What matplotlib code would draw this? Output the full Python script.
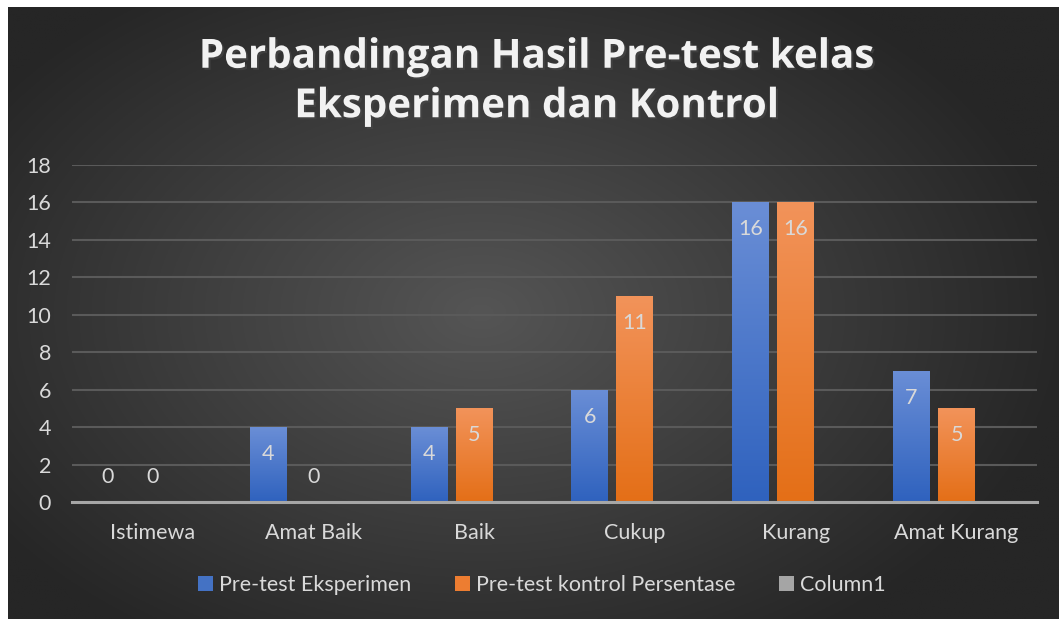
import numpy as np
import matplotlib
matplotlib.use("Agg")
import matplotlib.pyplot as plt
import matplotlib.patheffects as pe
from matplotlib.patches import Patch

categories = ["Istimewa", "Amat Baik", "Baik", "Cukup", "Kurang", "Amat Kurang"]
eksperimen = [0, 4, 4, 6, 16, 7]
kontrol = [0, 0, 5, 11, 16, 5]
column1 = [0, 0, 0, 0, 0, 0]
series_names = ["Pre-test Eksperimen", "Pre-test kontrol Persentase", "Column1"]
yticks = [0, 2, 4, 6, 8, 10, 12, 14, 16, 18]
title = "Perbandingan Hasil Pre-test kelas\nEksperimen dan Kontrol"

W, H = 1059, 619
fig = plt.figure(figsize=(W / 100, H / 100), dpi=100)
fig.patch.set_facecolor("white")

# background with radial gradient
bg = fig.add_axes([8 / W, 0, 1 - 8 / W, 1 - 7 / H])
bg.set_axis_off()
yy, xx = np.mgrid[0:1:300j, 0:1:500j]
r = np.sqrt(((xx - 0.45) / 0.75) ** 2 + ((yy - 0.5) / 0.85) ** 2)
r = np.clip(r / 0.75, 0, 1)
c0 = np.array([0x55, 0x55, 0x55]) / 255
c1 = np.array([0x26, 0x26, 0x26]) / 255
img = c0[None, None, :] * (1 - r[..., None]) + c1[None, None, :] * r[..., None]
bg.imshow(img, aspect="auto", extent=[0, 1, 0, 1])
bg.set_xlim(0, 1)
bg.set_ylim(0, 1)

FONT = "Lato"
TXT = "#d9d9d9"
FS = 15.5

ax = fig.add_axes([72 / W, 1 - 502 / H, (1037 - 72) / W, (502 - 165) / H])
ax.set_facecolor("none")
x = np.arange(len(categories))
bw = 0.23
off = 0.28

def grad_bars(bars, top, bottom):
    top = np.array(matplotlib.colors.to_rgb(top))
    bottom = np.array(matplotlib.colors.to_rgb(bottom))
    t = np.linspace(0, 1, 100)[:, None]
    g = (top[None, :] * (1 - t) + bottom[None, :] * t)[:, None, :]
    for b in bars:
        h = b.get_height()
        if h <= 0:
            continue
        x0 = b.get_x()
        w = b.get_width()
        im = ax.imshow(g, aspect="auto", extent=[x0, x0 + w, 0, h], zorder=3)
        im.set_clip_path(b)

b1 = ax.bar(x - off, eksperimen, bw, color="#4472c4", zorder=3,
            path_effects=[pe.SimplePatchShadow(offset=(0, -1), alpha=0.5), pe.Normal()])
b2 = ax.bar(x, kontrol, bw, color="#ed7d31", zorder=3,
            path_effects=[pe.SimplePatchShadow(offset=(0, -1), alpha=0.5), pe.Normal()])
b3 = ax.bar(x + off, column1, bw, color="#a5a5a5", zorder=3)
grad_bars(b1, "#6a8ed6", "#2f62be")
grad_bars(b2, "#f2935a", "#e46f17")

ax.set_xlim(-0.5, len(categories) - 0.5)
ax.set_ylim(0, 18)
ax.set_yticks(yticks)
ax.set_xticks(x)
ax.set_xticklabels(categories)
ax.tick_params(axis="both", length=0, labelsize=FS, labelcolor=TXT)
ax.tick_params(axis="x", pad=15)
ax.tick_params(axis="y", pad=15)
for lab in ax.get_xticklabels() + ax.get_yticklabels():
    lab.set_fontfamily(FONT)
ax.grid(axis="y", color="#5a5a5a", linewidth=1.5, zorder=0)
for s in ["top", "right", "left"]:
    ax.spines[s].set_visible(False)
ax.spines["bottom"].set_color("#a6a6a6")
ax.spines["bottom"].set_linewidth(2.2)
ax.spines["bottom"].set_zorder(4)

upp = 18 / (502 - 165)
for bars, vals in [(b1, eksperimen), (b2, kontrol)]:
    for b, v in zip(bars, vals):
        cx = b.get_x() + b.get_width() / 2
        if v > 0:
            yv = v - 27 * upp
        else:
            yv = 25 * upp
        ax.text(cx, yv, f"{v}", ha="center", va="center", fontsize=FS,
                color=TXT, fontfamily=FONT, zorder=5)

fig.text(536 / W, 1 - 82 / H, title, ha="center", va="center", fontsize=29,
         fontweight="bold", color="#f2f2f2", fontfamily="Open Sans",
         linespacing=1.35,
         path_effects=[pe.SimplePatchShadow(offset=(1.5, -1.5), alpha=0.6), pe.Normal()])

handles = [Patch(facecolor="#4472c4"), Patch(facecolor="#ed7d31"), Patch(facecolor="#a5a5a5")]
leg = fig.legend(handles, series_names, loc="center", bbox_to_anchor=(542 / W, 1 - 585 / H),
                 ncol=3, frameon=False, handlelength=0.7, handleheight=0.7,
                 handletextpad=0.3, columnspacing=2.0, prop={"family": FONT, "size": FS})
for t in leg.get_texts():
    t.set_color(TXT)

fig.savefig("out.png", dpi=100, facecolor=fig.get_facecolor())
